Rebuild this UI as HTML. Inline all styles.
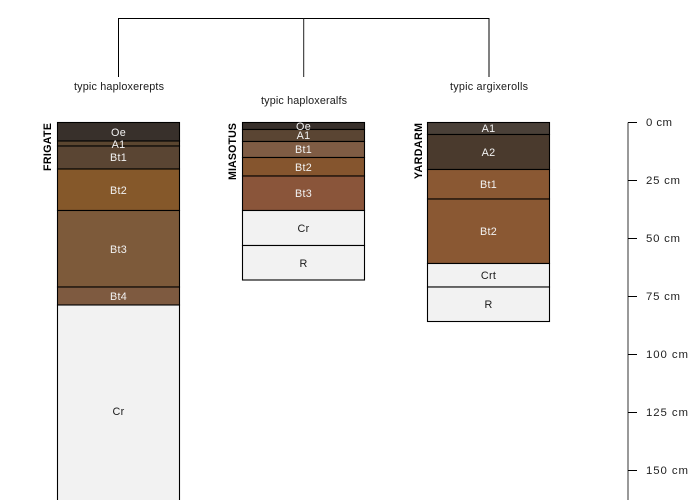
<!DOCTYPE html>
<html><head><meta charset="utf-8"><style>
html,body{margin:0;padding:0;background:#fff}
svg{display:block}
text{font-family:"Liberation Sans",Arial,sans-serif;font-size:10.8px}
.w{fill:#f2f2f2;text-anchor:middle;letter-spacing:.25px}
.k{fill:#1a1a1a;text-anchor:middle;letter-spacing:.25px}
.t{fill:#1a1a1a}
.b{font-weight:bold;font-size:10.6px;fill:#000}
.r{fill:#222;font-size:11.4px}
rect{stroke:#000;stroke-width:1.1}
</style></head><body>
<svg width="700" height="500" viewBox="0 0 700 500" xmlns="http://www.w3.org/2000/svg">
<g fill="none" stroke="#000" stroke-width="1">
<path d="M118.5 77V18.5H489V77"/><path d="M303.7 18.5V77" stroke="#222"/>
</g>
<text class="t" x="74" y="90" textLength="90">typic haploxerepts</text>
<text class="t" x="261" y="104" textLength="86">typic haploxeralfs</text>
<text class="t" x="450" y="90" textLength="78">typic argixerolls</text>

<!-- FRIGATE -->
<rect x="57.5" y="122.5" width="122" height="18.5" fill="#38302b"/>
<rect x="57.5" y="141" width="122" height="5" fill="#5b4630"/>
<rect x="57.5" y="146" width="122" height="23" fill="#5a4533"/>
<rect x="57.5" y="169" width="122" height="41.5" fill="#85582a"/>
<rect x="57.5" y="210.5" width="122" height="76.5" fill="#7d5a3a"/>
<rect x="57.5" y="287" width="122" height="18" fill="#7e5a40"/>
<rect x="57.5" y="305" width="122" height="200" fill="#f2f2f2"/>
<text class="w" x="118.5" y="136">Oe</text>
<text class="w" x="118.5" y="148">A1</text>
<text class="w" x="118.5" y="161">Bt1</text>
<text class="w" x="118.5" y="194">Bt2</text>
<text class="w" x="118.5" y="253">Bt3</text>
<text class="w" x="118.5" y="300">Bt4</text>
<text class="k" x="118.5" y="415">Cr</text>
<text class="b" transform="translate(51,171) rotate(-90)" textLength="48">FRIGATE</text>

<!-- MIASOTUS -->
<rect x="242.5" y="122.5" width="122" height="7" fill="#38302b"/>
<rect x="242.5" y="129.5" width="122" height="12" fill="#5a4533"/>
<rect x="242.5" y="141.5" width="122" height="16" fill="#7f5c44"/>
<rect x="242.5" y="157.5" width="122" height="18.5" fill="#85552e"/>
<rect x="242.5" y="176" width="122" height="34.5" fill="#8a553a"/>
<rect x="242.5" y="210.5" width="122" height="35" fill="#f2f2f2"/>
<rect x="242.5" y="245.5" width="122" height="34.5" fill="#f2f2f2"/>
<text class="w" x="303.5" y="130">Oe</text>
<text class="w" x="303.5" y="139">A1</text>
<text class="w" x="303.5" y="153">Bt1</text>
<text class="w" x="303.5" y="171">Bt2</text>
<text class="w" x="303.5" y="197">Bt3</text>
<text class="k" x="303.5" y="232">Cr</text>
<text class="k" x="303.5" y="267">R</text>
<text class="b" transform="translate(236,180) rotate(-90)" textLength="57">MIASOTUS</text>

<!-- YARDARM -->
<rect x="427.5" y="122.5" width="122" height="12" fill="#4a4038"/>
<rect x="427.5" y="134.5" width="122" height="35" fill="#4a3a2d"/>
<rect x="427.5" y="169.5" width="122" height="29.5" fill="#8a5833"/>
<rect x="427.5" y="199" width="122" height="64.5" fill="#8a5833"/>
<rect x="427.5" y="263.5" width="122" height="23.5" fill="#f2f2f2"/>
<rect x="427.5" y="287" width="122" height="34.5" fill="#f2f2f2"/>
<text class="w" x="488.5" y="132">A1</text>
<text class="w" x="488.5" y="156">A2</text>
<text class="w" x="488.5" y="188">Bt1</text>
<text class="w" x="488.5" y="235">Bt2</text>
<text class="k" x="488.5" y="279">Crt</text>
<text class="k" x="488.5" y="308">R</text>
<text class="b" transform="translate(422,179) rotate(-90)" textLength="56">YARDARM</text>

<!-- Axis -->
<path d="M628 122.5V500" stroke="#333" stroke-width="1"/>
<path d="M628 122.5H637M628 180.5H637M628 238.5H637M628 296.5H637M628 354.5H637M628 412.5H637M628 470.5H637" stroke="#000" stroke-width="1"/>
<text class="r" x="646" y="126" textLength="26">0 cm</text>
<text class="r" x="646" y="184" textLength="34">25 cm</text>
<text class="r" x="646" y="242" textLength="34">50 cm</text>
<text class="r" x="646" y="300" textLength="34">75 cm</text>
<text class="r" x="646" y="358" textLength="42">100 cm</text>
<text class="r" x="646" y="416" textLength="42">125 cm</text>
<text class="r" x="646" y="474" textLength="42">150 cm</text>
</svg>
</body></html>
